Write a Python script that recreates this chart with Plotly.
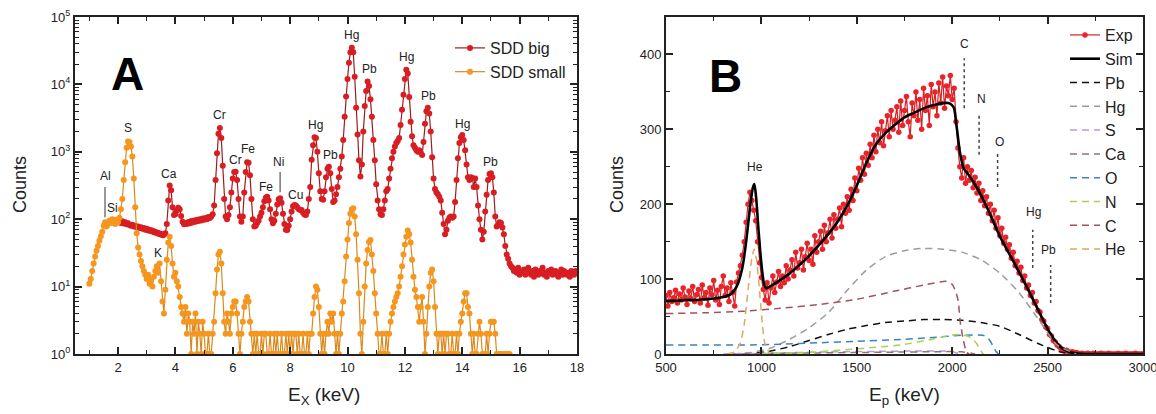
import numpy as np
import plotly.graph_objects as go

# ---------------- Panel A: X-ray spectra ----------------
CHANNEL_WIDTH = 0.05          # keV per channel
SDD_BIG_START = 2.0           # keV
SDD_SMALL_START = 1.0         # keV

# one row per keV (20 channels)
sdd_big_counts = [
    90, 96, 88, 93, 86, 90, 84, 87, 82, 80, 83, 78, 80, 76, 78, 74, 76, 72, 74, 70,            # 2
    72, 68, 70, 66, 68, 64, 65, 62, 63, 60, 61, 58, 59, 62, 85, 190, 315, 270, 150, 115,       # 3
    118, 135, 148, 140, 112, 92, 84, 88, 85, 91, 87, 94, 89, 96, 92, 98, 94, 100, 96, 102,     # 4
    98, 104, 100, 108, 104, 110, 118, 160, 380, 950, 1850, 2250, 1600, 620, 200, 110, 100, 115, 150, 250,  # 5
    400, 500, 505, 380, 200, 110, 92, 110, 250, 500, 700, 690, 450, 200, 100, 78, 80, 88, 95, 110,         # 6
    125, 150, 185, 208, 215, 190, 140, 100, 87, 95, 120, 165, 198, 205, 175, 120, 85, 70, 69, 80,          # 7
    100, 130, 155, 163, 160, 150, 140, 137, 137, 125, 117, 115, 130, 200, 300, 760, 1250, 1650, 1600, 1000,  # 8
    480, 260, 200, 195, 260, 420, 560, 600, 480, 280, 180, 190, 235, 300, 420, 560, 850, 1500, 3300, 6600,   # 9
    12000, 21000, 30000, 35000, 30000, 13000, 4500, 1800, 750, 430, 650, 2000, 4800, 8000, 11000, 9500, 6000, 3300, 1500, 750,  # 10
    330, 190, 140, 118, 115, 140, 190, 260, 280, 400, 560, 800, 1000, 1200, 1350, 1450, 1600, 2500, 4200, 7000,  # 11
    12000, 16500, 14500, 6500, 2800, 1700, 1250, 1150, 1050, 1000, 1050, 980, 900, 1400, 2600, 4000, 4500, 3700, 2000, 830,  # 12
    400, 280, 250, 235, 215, 190, 125, 85, 60, 70, 95, 105, 110, 105, 110, 180, 380, 800, 1350, 1650,  # 13
    1780, 1500, 1050, 650, 420, 380, 420, 410, 300, 400, 300, 160, 100, 70, 50, 65, 130, 230, 380, 470,  # 14
    480, 420, 250, 110, 78, 82, 90, 88, 75, 60, 40, 30, 26, 22, 20, 19, 17, 18, 16, 19,     # 15
    15, 17, 16, 18, 15, 17, 19, 16, 15, 17, 14, 18, 16, 15, 17, 16, 19, 15, 16, 14,         # 16
    17, 16, 18, 15, 16, 17, 15, 14, 16, 18, 15, 17, 16, 15, 16, 14, 17, 16, 15, 17,         # 17
    16,                                                                                       # 18
]

sdd_small_counts = [
    11, 13, 17, 22, 28, 34, 40, 48, 56, 65, 80, 90, 78, 85, 95, 88, 100, 92, 85, 98,          # 1
    90, 105, 140, 200, 380, 700, 1150, 1420, 1400, 1200, 850, 400, 150, 62, 38, 30, 24, 20, 17, 15,  # 2
    13, 15, 11, 13, 10, 14, 17, 20, 16, 22, 12, 6, 4, 9, 25, 45, 55, 40, 22, 14,              # 3
    16, 12, 10, 7, 5, 4, 3, 5, 2, 4, 3, 1, 3, 2, 4, 1, 3, 2, 1, 3,                            # 4
    2, 1, 1, 2, 1, 1, 2, 3, 8, 18, 30, 33, 22, 8, 3, 2, 4, 3, 2, 4,                           # 5
    5, 6, 6, 4, 2, 1, 2, 3, 5, 6, 7, 6, 3, 2, 1, 2, 1, 2, 1, 1,                               # 6
    2, 1, 2, 2, 1, 1, 2, 1, 1, 2, 1, 2, 1, 1, 2, 1, 1, 2, 1, 2,                               # 7
    1, 2, 1, 2, 2, 1, 2, 1, 1, 2, 1, 1, 2, 1, 2, 2, 4, 7, 10, 9,                              # 8
    5, 2, 1, 2, 1, 2, 3, 2, 4, 3, 4, 2, 1, 2, 1, 2, 4, 6, 12, 28,                             # 9
    50, 88, 120, 140, 145, 110, 60, 25, 8, 2, 1, 3, 10, 22, 35, 46, 49, 30, 17, 8,            # 10
    4, 2, 1, 1, 2, 1, 1, 2, 1, 2, 3, 4, 5, 6, 7, 8, 10, 14, 20, 30,                           # 11
    42, 55, 68, 60, 45, 25, 14, 9, 7, 5, 3, 5, 7, 3, 1, 2, 5, 10, 16, 18,                     # 12
    12, 5, 2, 1, 2, 2, 1, 2, 1, 2, 2, 1, 1, 2, 1, 1, 2, 1, 2, 3,                              # 13
    4, 6, 8, 8, 5, 4, 2, 1, 2, 1, 1, 2, 3, 2, 1, 1, 1, 2, 1, 2,                               # 14
    3, 3, 3, 2, 1, 1, 1, 1, 1, 1, 1, 1, 1, 1,                                                 # 15
]

# element labels of panel A (energy in keV, height in counts)
xrf_label_text = ["Al", "Si", "S", "Ca", "K", "Cr", "Cr", "Fe", "Fe", "Ni", "Cu",
                  "Hg", "Pb", "Hg", "Pb", "Hg", "Pb", "Hg", "Pb"]
xrf_label_energy = [1.58, 1.82, 2.35, 3.78, 3.39, 5.55, 6.11, 6.53, 7.16, 7.61, 8.17,
                    8.90, 9.39, 10.15, 10.75, 12.04, 12.84, 14.02, 15.00]
xrf_label_counts = [437, 148, 2240, 468, 32, 3550, 759, 1096, 302, 708, 229,
                    2512, 891, 53700, 17000, 25700, 6760, 2570, 708]

# marker bars under Al/Si and Ni
al_bar_energy = [1.546, 1.546]
al_bar_counts = [107, 300]
ni_bar_energy = [7.65, 7.65]
ni_bar_counts = [251, 501]

# ---------------- Panel B: proton spectrum ----------------
EXP_START = 500      # keV
EXP_STEP = 10        # keV

exp_counts = [
    78, 64, 82, 70, 75, 85, 68, 80, 72, 88,            # 500
    76, 66, 84, 74, 90, 70, 79, 86, 68, 92,            # 600
    75, 82, 65, 88, 79, 98, 72, 85, 66, 90,            # 700
    104, 78, 88, 70, 95, 82, 64, 96, 108, 118,         # 800
    132, 150, 176, 200, 216, 205, 192, 178, 150, 122,  # 900
    102, 86, 72, 95, 68, 88, 104, 82, 96, 110,         # 1000
    90, 104, 95, 118, 100, 112, 126, 104, 136, 115,    # 1100
    122, 140, 112, 130, 148, 125, 140, 120, 158, 136,  # 1200
    150, 164, 140, 172, 150, 162, 180, 155, 186, 168,  # 1300
    180, 195, 170, 200, 188, 210, 192, 220, 205, 235,  # 1400
    218, 248, 232, 262, 240, 268, 252, 280, 262, 292,  # 1500
    270, 300, 282, 310, 278, 298, 318, 290, 325, 300,  # 1600
    312, 330, 296, 338, 305, 325, 344, 310, 290, 335,  # 1700
    318, 350, 312, 340, 300, 355, 325, 345, 305, 360,  # 1800
    330, 350, 318, 362, 335, 370, 328, 358, 345, 372,  # 1900
    340, 355, 310, 275, 250, 235, 262, 228, 250, 232,  # 2000
    245, 222, 236, 215, 228, 205, 218, 198, 210, 188,  # 2100
    200, 178, 192, 168, 182, 158, 168, 148, 156, 140,  # 2200
    146, 128, 136, 118, 124, 108, 116, 98, 104, 88,    # 2300
    92, 78, 82, 68, 70, 58, 56, 46, 44, 36,            # 2400
    34, 26, 24, 18, 16, 12, 10, 7, 6, 4,               # 2500
    5, 3, 2, 3, 1, 2, 1, 0, 1, 0,                      # 2600
    0, 1, 0, 0, 1, 0, 0, 0, 1, 0,                      # 2700
    0, 0, 1, 0, 0, 0, 0, 1, 0, 0,                      # 2800
    0, 1, 0, 0, 0, 0, 1, 0, 0, 0,                      # 2900
    0,                                                 # 3000
]

sim_energy = [500, 550, 600, 650, 700, 750, 800, 840, 870, 900, 920, 940, 955, 963, 972, 985,
              1000, 1015, 1025, 1050, 1100, 1150, 1200, 1250, 1300, 1350, 1400, 1450, 1500,
              1550, 1600, 1650, 1700, 1750, 1800, 1850, 1900, 1950, 1980, 2000, 2010, 2020,
              2030, 2040, 2060, 2090, 2130, 2180, 2250, 2320, 2390, 2460, 2510, 2560, 2610,
              2660, 2700, 2800, 2900, 3000]
sim_counts = [71, 71, 72, 72, 73, 74, 76, 80, 90, 115, 150, 195, 222, 227, 210, 165,
              120, 92, 88, 91, 99, 108, 119, 131, 145, 160, 177, 198, 225,
              255, 280, 295, 306, 316, 322, 328, 332, 335, 335, 332, 328, 310,
              290, 270, 248, 238, 222, 197, 157, 124, 90, 54, 29, 11, 3,
              0.5, 0, 0, 0, 0]

pb_energy = [850, 950, 1050, 1150, 1250, 1350, 1450, 1550, 1650, 1750, 1850, 1950, 2050,
             2150, 2250, 2350, 2450, 2550, 2620]
pb_counts = [0, 1, 4, 10, 18, 26, 33, 38, 42, 44, 46, 46, 45, 42, 37, 26, 14, 4, 0]

hg_energy = [850, 950, 1050, 1150, 1250, 1350, 1450, 1550, 1650, 1750, 1850, 1950, 2050,
             2150, 2250, 2350, 2450, 2550, 2650]
hg_counts = [0, 2, 8, 20, 35, 55, 85, 112, 130, 138, 141, 140, 136, 126, 108, 82, 47, 12, 0]

s_energy = [800, 1000, 1200, 1400, 1600, 1800, 1950, 2000, 2030, 2050]
s_counts = [0, 1, 2, 3, 3.5, 4, 4, 3, 1, 0]

ca_energy = [900, 1100, 1300, 1500, 1700, 1900, 2050, 2100, 2120]
ca_counts = [0, 1, 1.5, 2, 2.5, 3, 3, 1, 0]

o_energy = [500, 700, 900, 1100, 1300, 1500, 1700, 1900, 2050, 2160, 2185, 2200, 2215, 2228, 2242]
o_counts = [12, 12, 12, 13, 15, 17, 19, 22, 25, 25, 22, 17, 10, 4, 0]

n_energy = [1000, 1150, 1300, 1450, 1600, 1730, 1900, 1990, 2040, 2090, 2110, 2128, 2145, 2163]
n_counts = [0, 1, 3, 6, 9, 12, 20, 25, 26, 23, 19, 14, 6, 0]

c_energy = [500, 700, 900, 1100, 1300, 1500, 1700, 1850, 1970, 2000, 2020, 2032, 2041, 2058, 2076, 2090]
c_counts = [54, 55, 57, 61, 66, 73, 84, 92, 97, 93, 82, 70, 45, 19, 2, 0]

he_energy = [820, 860, 890, 910, 930, 950, 962, 975, 990, 1005, 1020, 1045]
he_counts = [0, 3, 15, 40, 85, 128, 140, 125, 85, 40, 12, 0]

# surface-edge markers of panel B
edge_names = ["C", "N", "O", "Hg", "Pb"]
edge_energy = [2063, 2141, 2238, 2422, 2516]
edge_low = [328, 266, 223, 115, 68]
edge_high = [395, 322, 268, 166, 119]
edge_label_energy = [2063, 2155, 2250, 2424, 2507]
edge_label_counts = [414, 340, 283, 190, 139]

# ---------------- figure ----------------
W, H = 1156, 414
FONT = "Liberation Sans, Arial, sans-serif"
INK = "#222222"

def px_x(p):
    """pixel x -> paper fraction"""
    return p / W

def px_y(p):
    """pixel y (from top) -> paper fraction"""
    return 1 - p / H

fig = go.Figure()

big_e = np.round(SDD_BIG_START + CHANNEL_WIDTH * np.arange(len(sdd_big_counts)), 3)
small_e = np.round(SDD_SMALL_START + CHANNEL_WIDTH * np.arange(len(sdd_small_counts)), 3)

fig.add_trace(go.Scatter(
    x=big_e, y=sdd_big_counts, mode="lines+markers", name="SDD big",
    line=dict(color="#9e1b1b", width=1.2),
    marker=dict(color="#d81e22", size=6, line=dict(width=0)),
    xaxis="x", yaxis="y", legend="legend"))
fig.add_trace(go.Scatter(
    x=small_e, y=sdd_small_counts, mode="lines+markers", name="SDD small",
    line=dict(color="#d98a1e", width=1.2),
    marker=dict(color="#f6961e", size=6, line=dict(width=0)),
    xaxis="x", yaxis="y", legend="legend"))

for bx, by in ((al_bar_energy, al_bar_counts), (ni_bar_energy, ni_bar_counts)):
    fig.add_trace(go.Scatter(x=bx, y=by, mode="lines", showlegend=False,
                             line=dict(color="#555555", width=1.2),
                             xaxis="x", yaxis="y", hoverinfo="skip"))

exp_e = EXP_START + EXP_STEP * np.arange(len(exp_counts))
fig.add_trace(go.Scatter(
    x=exp_e, y=exp_counts, mode="lines+markers", name="Exp",
    line=dict(color="#d42026", width=1.2),
    marker=dict(color="#e8232a", size=5.5, line=dict(width=0)),
    xaxis="x2", yaxis="y2", legend="legend2"))
fig.add_trace(go.Scatter(
    x=sim_energy, y=sim_counts, mode="lines", name="Sim",
    line=dict(color="#000000", width=2.6, shape="spline", smoothing=0.7),
    xaxis="x2", yaxis="y2", legend="legend2"))

components = [
    ("Pb", pb_energy, pb_counts, "#111111"),
    ("Hg", hg_energy, hg_counts, "#9c9c9c"),
    ("S", s_energy, s_counts, "#b99ad6"),
    ("Ca", ca_energy, ca_counts, "#8a7574"),
    ("O", o_energy, o_counts, "#3b82c4"),
    ("N", n_energy, n_counts, "#a6d451"),
    ("C", c_energy, c_counts, "#a5505d"),
    ("He", he_energy, he_counts, "#dba866"),
]
for name, ex, cy, col in components:
    fig.add_trace(go.Scatter(
        x=ex, y=cy, mode="lines", name=name,
        line=dict(color=col, width=1.5, dash="7px,5px", shape="spline", smoothing=0.6),
        xaxis="x2", yaxis="y2", legend="legend2"))

for e, lo, hi in zip(edge_energy, edge_low, edge_high):
    fig.add_trace(go.Scatter(x=[e, e], y=[lo, hi], mode="lines", showlegend=False,
                             line=dict(color="#444444", width=1.5, dash="dot"),
                             xaxis="x2", yaxis="y2", hoverinfo="skip"))

annotations = []
for t, e, c in zip(xrf_label_text, xrf_label_energy, xrf_label_counts):
    annotations.append(dict(x=e, y=float(np.log10(c)), xref="x", yref="y", text=t,
                            showarrow=False, font=dict(family=FONT, size=12, color=INK)))
for t, e, c in zip(edge_names, edge_label_energy, edge_label_counts):
    annotations.append(dict(x=e, y=c, xref="x2", yref="y2", text=t, showarrow=False,
                            font=dict(family=FONT, size=12, color=INK)))
annotations.append(dict(x=966, y=250, xref="x2", yref="y2", text="He", showarrow=False,
                        font=dict(family=FONT, size=12, color=INK)))

annotations += [
    dict(x=px_x(127), y=px_y(74), xref="paper", yref="paper", text="<b>A</b>",
         xanchor="center", yanchor="middle", showarrow=False,
         font=dict(family=FONT, size=46, color="#000000")),
    dict(x=px_x(725), y=px_y(76), xref="paper", yref="paper", text="<b>B</b>",
         xanchor="center", yanchor="middle", showarrow=False,
         font=dict(family=FONT, size=46, color="#000000")),
    dict(x=px_x(20), y=px_y(185), xref="paper", yref="paper", text="Counts", textangle=-90,
         xanchor="center", yanchor="middle", showarrow=False,
         font=dict(family=FONT, size=18, color=INK)),
    dict(x=px_x(617), y=px_y(185), xref="paper", yref="paper", text="Counts", textangle=-90,
         xanchor="center", yanchor="middle", showarrow=False,
         font=dict(family=FONT, size=18, color=INK)),
    dict(x=px_x(324), y=px_y(396), xref="paper", yref="paper", text="E<sub>X</sub> (keV)",
         xanchor="center", yanchor="middle", showarrow=False,
         font=dict(family=FONT, size=19, color=INK)),
    dict(x=px_x(904), y=px_y(396), xref="paper", yref="paper", text="E<sub>p</sub> (keV)",
         xanchor="center", yanchor="middle", showarrow=False,
         font=dict(family=FONT, size=19, color=INK)),
]

axis_common = dict(showline=True, linewidth=2, linecolor=INK, mirror="ticks",
                   ticks="inside", ticklen=7, tickwidth=1.5, tickcolor=INK,
                   showgrid=False, zeroline=False, automargin=False,
                   tickfont=dict(family=FONT, size=13, color=INK))

log_minor = [m * 10 ** p for p in range(0, 5) for m in range(2, 10)]

plot_bottom, plot_top = px_y(354), px_y(17)

fig.update_layout(
    width=W, height=H, margin=dict(l=0, r=0, t=0, b=0, autoexpand=False),
    paper_bgcolor="white", plot_bgcolor="white",
    font=dict(family=FONT, color=INK),
    xaxis=dict(domain=[px_x(75), px_x(577)], range=[0.5, 18], anchor="y",
               tickvals=[2, 4, 6, 8, 10, 12, 14, 16, 18],
               minor=dict(ticks="inside", ticklen=4, tickwidth=1.2, tickcolor=INK,
                          tickmode="array", tickvals=[1, 3, 5, 7, 9, 11, 13, 15, 17]),
               **axis_common),
    yaxis=dict(domain=[plot_bottom, plot_top], type="log", range=[0, 5], anchor="x",
               tickvals=[1, 10, 100, 1000, 10000, 100000],
               ticktext=["10<sup>0</sup>", "10<sup>1</sup>", "10<sup>2</sup>",
                         "10<sup>3</sup>", "10<sup>4</sup>", "10<sup>5</sup>"],
               minor=dict(ticks="inside", ticklen=4, tickwidth=1.2, tickcolor=INK,
                          tickmode="array", tickvals=log_minor),
               **axis_common),
    xaxis2=dict(domain=[px_x(666), px_x(1143)], range=[500, 3000], anchor="y2",
                dtick=500, tick0=500, ticklabeloverflow="allow",
                minor=dict(ticks="inside", ticklen=4, tickwidth=1.2, tickcolor=INK, dtick=250),
                **axis_common),
    yaxis2=dict(domain=[plot_bottom, plot_top], range=[0, 450], anchor="x2",
                dtick=100, tick0=0,
                minor=dict(ticks="inside", ticklen=4, tickwidth=1.2, tickcolor=INK, dtick=50),
                **axis_common),
    legend=dict(x=px_x(450), y=px_y(31), xanchor="left", yanchor="top",
                bgcolor="rgba(0,0,0,0)", font=dict(family=FONT, size=16, color=INK)),
    legend2=dict(x=px_x(1065), y=px_y(18), xanchor="left", yanchor="top",
                 bgcolor="rgba(0,0,0,0)", font=dict(family=FONT, size=16, color=INK)),
    annotations=annotations,
    showlegend=True,
)

fig.write_html("out.html")
